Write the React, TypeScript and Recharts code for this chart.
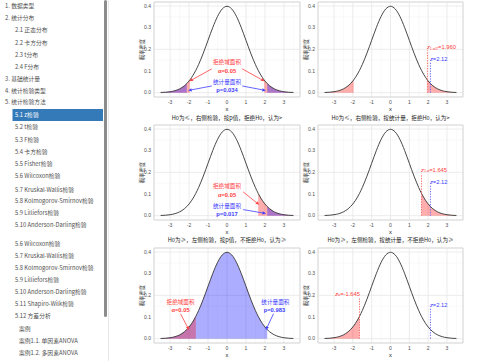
import React from "react";
import {
  ComposedChart,
  Area,
  Line,
  XAxis,
  YAxis,
  CartesianGrid,
  ReferenceLine,
  ReferenceDot,
  ReferenceArea,
} from "recharts";

// standard normal density
const xValues = [
  -3.5, -3.25, -3, -2.75, -2.5, -2.25, -2.12, -2, -1.96, -1.75, -1.645, -1.5,
  -1.25, -1, -0.75, -0.5, -0.25, 0, 0.25, 0.5, 0.75, 1, 1.25, 1.5, 1.645, 1.75,
  1.96, 2, 2.12, 2.25, 2.5, 2.75, 3, 3.25, 3.5,
];
const densityValues = [
  0.0009, 0.002, 0.0044, 0.0091, 0.0175, 0.0317, 0.0422, 0.054, 0.0584, 0.0863,
  0.1031, 0.1295, 0.1826, 0.242, 0.3011, 0.3521, 0.3867, 0.3989, 0.3867, 0.3521,
  0.3011, 0.242, 0.1826, 0.1295, 0.1031, 0.0863, 0.0584, 0.054, 0.0422, 0.0317,
  0.0175, 0.0091, 0.0044, 0.002, 0.0009,
];

const xTicks = [-3, -2, -1, 0, 1, 2, 3];
const yTicks = [0, 0.1, 0.2, 0.3, 0.4];
const xMinorTicks = [-3.5, -2.5, -1.5, -0.5, 0.5, 1.5, 2.5, 3.5];
const yMinorTicks = [0.05, 0.15, 0.25, 0.35];

const zTwoSided = 1.96;
const zOneSided = 1.645;
const zStat = 2.12;

const panelTitles = [
  "",
  "",
  "H0为≤，右侧检验，按p值，拒绝H0，认为>",
  "H0为≤，右侧检验，按统计量，拒绝H0，认为>",
  "H0为≥，左侧检验，按p值，不拒绝H0，认为≥",
  "H0为≥，左侧检验，按统计量，不拒绝H0，认为≥",
];

type Kind = "reject" | "stat";
type Region = { from: number; to: number; kind: Kind };
type Note = { x: number; y: number; text: string; kind: Kind; bold?: boolean };
type Arrow = { x1: number; y1: number; x2: number; y2: number; kind: Kind };
type Cutoff = {
  x: number;
  top: number;
  kind: Kind;
  sub: string;
  rest: string;
  labelY: number;
  anchor: "start" | "end";
};

const panelRegions: Region[][] = [
  [
    { from: -3.5, to: -zTwoSided, kind: "reject" },
    { from: zTwoSided, to: 3.5, kind: "reject" },
    { from: -3.5, to: -zStat, kind: "stat" },
    { from: zStat, to: 3.5, kind: "stat" },
  ],
  [
    { from: -3.5, to: -zTwoSided, kind: "reject" },
    { from: zTwoSided, to: 3.5, kind: "reject" },
  ],
  [
    { from: zOneSided, to: 3.5, kind: "reject" },
    { from: zStat, to: 3.5, kind: "stat" },
  ],
  [{ from: zOneSided, to: 3.5, kind: "reject" }],
  [
    { from: -3.5, to: zStat, kind: "stat" },
    { from: -3.5, to: -zOneSided, kind: "reject" },
  ],
  [{ from: -3.5, to: -zOneSided, kind: "reject" }],
];

const panelNotes: Note[][] = [
  [
    { x: 0, y: 0.14, text: "拒绝域面积", kind: "reject" },
    { x: 0, y: 0.099, text: "α=0.05", kind: "reject", bold: true },
    { x: 0, y: 0.048, text: "统计量面积", kind: "stat" },
    { x: 0, y: 0.0125, text: "p=0.034", kind: "stat", bold: true },
  ],
  [],
  [
    { x: 0, y: 0.135, text: "拒绝域面积", kind: "reject" },
    { x: 0, y: 0.096, text: "α=0.05", kind: "reject", bold: true },
    { x: 0, y: 0.0465, text: "统计量面积", kind: "stat" },
    { x: 0, y: 0.008, text: "p=0.017", kind: "stat", bold: true },
  ],
  [],
  [
    { x: -2.45, y: 0.169, text: "拒绝域面积", kind: "reject" },
    { x: -2.45, y: 0.131, text: "α=0.05", kind: "reject", bold: true },
    { x: 2.55, y: 0.169, text: "统计量面积", kind: "stat" },
    { x: 2.5, y: 0.131, text: "p=0.983", kind: "stat", bold: true },
  ],
  [],
];

const panelArrows: Arrow[][] = [
  [
    { x1: -0.8, y1: 0.11, x2: -1.98, y2: 0.053, kind: "reject" },
    { x1: 0.8, y1: 0.11, x2: 1.98, y2: 0.053, kind: "reject" },
    { x1: -0.8, y1: 0.031, x2: -2.05, y2: 0.01, kind: "stat" },
    { x1: 0.8, y1: 0.031, x2: 2.05, y2: 0.01, kind: "stat" },
  ],
  [],
  [
    { x1: 0.85, y1: 0.11, x2: 1.7, y2: 0.05, kind: "reject" },
    { x1: 0.85, y1: 0.028, x2: 2.06, y2: 0.01, kind: "stat" },
  ],
  [],
  [
    { x1: -2.45, y1: 0.115, x2: -2.0, y2: 0.04, kind: "reject" },
    { x1: 2.45, y1: 0.115, x2: 2.05, y2: 0.04, kind: "stat" },
  ],
  [],
];

const statCutoff: Cutoff = {
  x: zStat,
  top: 0.143,
  kind: "stat",
  sub: "",
  rest: "=2.12",
  labelY: 0.157,
  anchor: "start",
};

const panelCutoffs: Cutoff[][] = [
  [],
  [
    { x: zTwoSided, top: 0.195, kind: "reject", sub: "1-α/2", rest: "=1.960", labelY: 0.21, anchor: "start" },
    statCutoff,
  ],
  [],
  [
    { x: zOneSided, top: 0.194, kind: "reject", sub: "1-α", rest: "=1.645", labelY: 0.212, anchor: "start" },
    statCutoff,
  ],
  [],
  [
    { x: -zOneSided, top: 0.19, kind: "reject", sub: "α", rest: "=-1.645", labelY: 0.208, anchor: "end" },
    statCutoff,
  ],
];

const sidebarItems: [string, number, number][] = [
  ["1. 数据类型", 0, 5.7],
  ["2. 统计分布", 0, 17.3],
  ["2.1 正态分布", 1, 29.3],
  ["2.2 卡方分布", 1, 42.3],
  ["2.3 t分布", 1, 54],
  ["2.4 F分布", 1, 66],
  ["3. 基础统计量", 0, 78.3],
  ["4. 统计检验类型", 0, 90],
  ["5. 统计检验方法", 0, 101.7],
  ["5.1 z检验", 1, 114.3],
  ["5.2 t检验", 1, 126.7],
  ["5.3 F检验", 1, 139],
  ["5.4 卡方检验", 1, 151],
  ["5.5 Fisher检验", 1, 163.3],
  ["5.6 Wilcoxon检验", 1, 175],
  ["5.7 Kruskal-Wallis检验", 1, 189.3],
  ["5.8 Kolmogorov-Smirnov检验", 1, 200.7],
  ["5.9 Lilliefors检验", 1, 212.3],
  ["5.10 Anderson-Darling检验", 1, 224.3],
  ["5.6 Wilcoxon检验", 1, 243.3],
  ["5.7 Kruskal-Wallis检验", 1, 255],
  ["5.8 Kolmogorov-Smirnov检验", 1, 267.3],
  ["5.9 Lilliefors检验", 1, 279.3],
  ["5.10 Anderson-Darling检验", 1, 291],
  ["5.11 Shapiro-Wilk检验", 1, 303.3],
  ["5.12 方差分析", 1, 315],
  ["案例", 2, 328.3],
  ["案例1.1. 单因素ANOVA", 2, 340.7],
  ["案例1.2. 多因素ANOVA", 2, 352.7],
];
const activeItem = 9;

const fillColor = { reject: "#ff0000", stat: "#0000ff" };
const textColor = { reject: "#ff3d3d", stat: "#3d3dff" };
const dashColor = { reject: "#ff5a5a", stat: "#5a5aff" };

const SANS = "'Liberation Sans', Arial, sans-serif";
const CJK = "'Noto Sans CJK SC', 'Liberation Sans', sans-serif";

const colLefts = [154, 318];
const colWidths = [146, 145];
const rowTops = [2, 125, 247.5];
const plotH = 95;

function arrowShape(color: string) {
  return (p: any) => {
    const { x1, y1, x2, y2 } = p;
    const a = Math.atan2(y2 - y1, x2 - x1);
    const len = 3.6;
    const w = 1.6;
    const bx = x2 - len * Math.cos(a);
    const by = y2 - len * Math.sin(a);
    const pts = [
      [x2, y2],
      [bx + w * Math.sin(a), by - w * Math.cos(a)],
      [bx - w * Math.sin(a), by + w * Math.cos(a)],
    ]
      .map((q) => q.join(","))
      .join(" ");
    return (
      <g>
        <line x1={x1} y1={y1} x2={bx} y2={by} stroke={color} strokeWidth={0.8} />
        <polygon points={pts} fill={color} />
      </g>
    );
  };
}

function Panel({ index }: { index: number }) {
  const col = index % 2;
  const row = Math.floor(index / 2);
  const left = colLefts[col];
  const width = colWidths[col];
  const top = rowTops[row];
  const regions = panelRegions[index];

  const data = xValues.map((x, i) => {
    const d: any = { x, density: densityValues[i] };
    regions.forEach((r, k) => {
      d["s" + k] = x >= r.from - 1e-6 && x <= r.to + 1e-6 ? densityValues[i] : null;
    });
    return d;
  });

  return (
    <>
      {panelTitles[index] && (
        <div
          style={{
            position: "absolute",
            left,
            width,
            top: top - 11.5,
            lineHeight: "8px",
            fontSize: 5.6,
            textAlign: "center",
            color: "#222222",
            fontFamily: CJK,
            whiteSpace: "nowrap",
          }}
        >
          {panelTitles[index]}
        </div>
      )}
      <div style={{ position: "absolute", left: left - 20, top: top - 4 }}>
        <ComposedChart
          width={width + 24}
          height={plotH + 22}
          data={data}
          margin={{ top: 4, right: 4, bottom: 0, left: 0 }}
        >
          <CartesianGrid
            stroke="#f3f3f3"
            strokeWidth={0.5}
            verticalValues={xMinorTicks}
            horizontalValues={yMinorTicks}
          />
          <CartesianGrid stroke="#e4e4e4" strokeWidth={0.7} />
          <ReferenceArea
            x1={-3.85}
            x2={3.85}
            y1={-0.02}
            y2={0.4188}
            fill="none"
            stroke="#d4d4d4"
            strokeWidth={0.8}
            ifOverflow="visible"
          />
          <XAxis
            type="number"
            dataKey="x"
            domain={[-3.85, 3.85]}
            allowDataOverflow
            ticks={xTicks}
            axisLine={false}
            tickLine={false}
            tickSize={0}
            tickMargin={3}
            height={18}
            tick={{ fontSize: 5, fill: "#4d4d4d", fontFamily: SANS }}
            label={{
              content: (p: any) => (
                <text
                  x={p.viewBox.x + p.viewBox.width / 2}
                  y={p.viewBox.y + 12}
                  fontSize={5.8}
                  fill="#1a1a1a"
                  fontFamily={SANS}
                  textAnchor="middle"
                  dominantBaseline="central"
                >
                  x
                </text>
              ),
            }}
          />
          <YAxis
            type="number"
            domain={[-0.02, 0.4188]}
            allowDataOverflow
            ticks={yTicks}
            width={20}
            axisLine={false}
            tickLine={false}
            tickSize={0}
            tickMargin={3}
            tickFormatter={(v: number) => v.toFixed(1)}
            tick={{ fontSize: 5, fill: "#4d4d4d", fontFamily: SANS }}
            label={{
              content: (p: any) => {
                const cx = p.viewBox.x + 7.5;
                const cy = p.viewBox.y + p.viewBox.height / 2;
                return (
                  <text
                    x={cx}
                    y={cy}
                    transform={`rotate(-90 ${cx} ${cy})`}
                    fontSize={5.2}
                    fill="#333333"
                    fontFamily={CJK}
                    textAnchor="middle"
                    dominantBaseline="central"
                  >
                    概率密度
                  </text>
                );
              },
            }}
          />
          {regions.map((r, k) => (
            <Area
              key={"s" + k}
              dataKey={"s" + k}
              type="monotone"
              stroke="none"
              fill={fillColor[r.kind]}
              fillOpacity={0.32}
              baseValue={0}
              connectNulls={false}
              dot={false}
              activeDot={false}
              isAnimationActive={false}
            />
          ))}
          <Line
            dataKey="density"
            type="monotone"
            stroke="#333333"
            strokeWidth={0.9}
            dot={false}
            activeDot={false}
            isAnimationActive={false}
          />
          {panelCutoffs[index].map((c, k) => (
            <ReferenceLine
              key={"c" + k}
              segment={[
                { x: c.x, y: 0 },
                { x: c.x, y: c.top },
              ]}
              stroke={dashColor[c.kind]}
              strokeWidth={0.9}
              strokeDasharray="1.3 1.3"
            />
          ))}
          {panelCutoffs[index].map((c, k) => (
            <ReferenceDot
              key={"cl" + k}
              x={c.x}
              y={c.labelY}
              r={0}
              shape={(p: any) => (
                <text
                  x={p.cx + (c.anchor === "start" ? -0.5 : 0.5)}
                  y={p.cy}
                  fontSize={5.8}
                  fill={textColor[c.kind]}
                  fontFamily={SANS}
                  textAnchor={c.anchor}
                  dominantBaseline="central"
                >
                  <tspan fontStyle="italic">z</tspan>
                  {c.sub && (
                    <tspan fontSize={3.6} dy={1.5}>
                      {c.sub}
                    </tspan>
                  )}
                  <tspan dy={c.sub ? -1.5 : 0}>{c.rest}</tspan>
                </text>
              )}
            />
          ))}
          {panelArrows[index].map((a, k) => (
            <ReferenceLine
              key={"a" + k}
              segment={[
                { x: a.x1, y: a.y1 },
                { x: a.x2, y: a.y2 },
              ]}
              stroke={textColor[a.kind]}
              shape={arrowShape(textColor[a.kind])}
            />
          ))}
          {panelNotes[index].map((n, k) => (
            <ReferenceDot
              key={"n" + k}
              x={n.x}
              y={n.y}
              r={0}
              shape={(p: any) => (
                <text
                  x={p.cx}
                  y={p.cy}
                  fontSize={n.bold ? 5.8 : 5.6}
                  fontWeight={n.bold ? "bold" : "normal"}
                  fill={textColor[n.kind]}
                  fontFamily={n.bold ? SANS : CJK}
                  textAnchor="middle"
                  dominantBaseline="central"
                >
                  {n.text}
                </text>
              )}
            />
          ))}
        </ComposedChart>
      </div>
    </>
  );
}

function Sidebar() {
  return (
    <svg width={110} height={361} style={{ position: "absolute", left: 0, top: 0 }}>
      <rect x={12.5} y={109} width={90.5} height={12} fill="#347ab8" />
      {sidebarItems.map(([label, level, y], i) => (
        <text
          key={i}
          x={level === 0 ? 5 : level === 1 ? 15 : 19}
          y={y}
          fontSize={5.8}
          fill={i === activeItem ? "#ffffff" : "#505050"}
          fontFamily={CJK}
          dominantBaseline="central"
        >
          {label}
        </text>
      ))}
      <rect x={104} y={0} width={3} height={317} rx={1.5} fill="#8c8c8c" />
      <line x1={108.5} y1={0} x2={108.5} y2={361} stroke="#e2e2e2" strokeWidth={0.8} />
    </svg>
  );
}

export default function App() {
  return (
    <div
      style={{
        position: "fixed",
        left: 0,
        top: 0,
        width: 500,
        height: 361,
        overflow: "hidden",
        background: "#ffffff",
      }}
    >
      <Sidebar />
      {[0, 1, 2, 3, 4, 5].map((i) => (
        <Panel key={i} index={i} />
      ))}
    </div>
  );
}
